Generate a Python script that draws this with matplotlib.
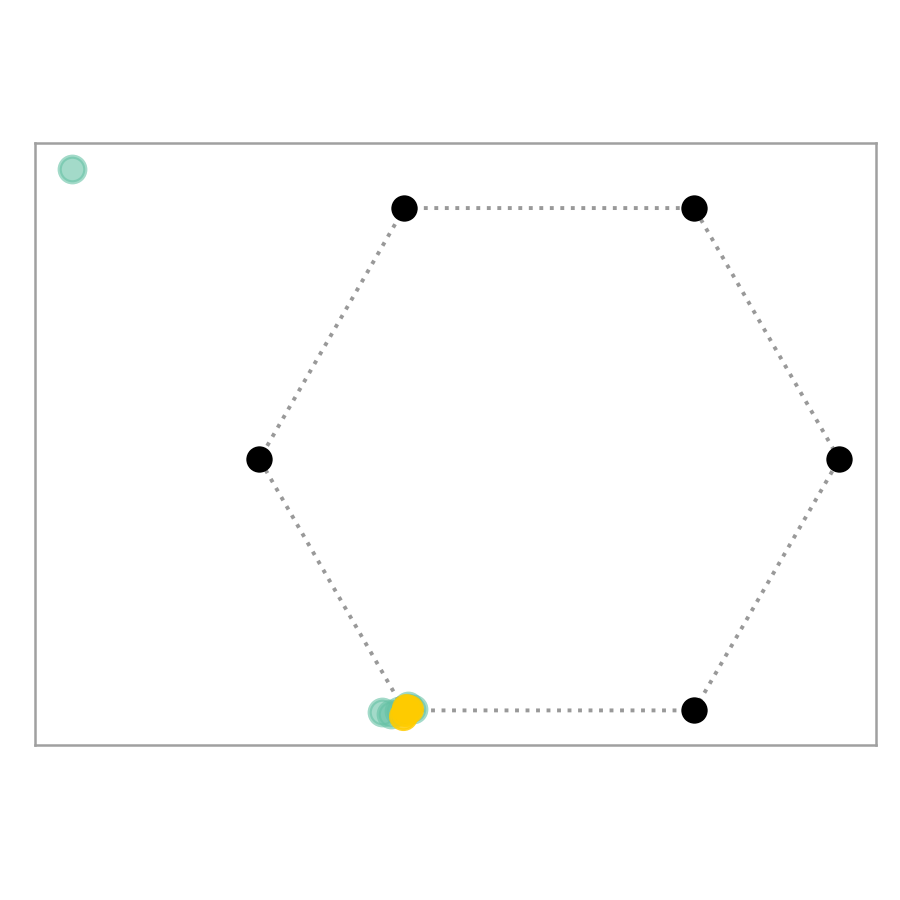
import matplotlib
matplotlib.use("Agg")
import matplotlib.pyplot as plt
import numpy as np

# Anchor angles (degrees) of the six radviz anchors
anchor_angles = [0, 60, 120, 180, 240, 300]

# Projected sample points
teal_x = [-1.647, -0.578, -0.545, -0.488, -0.520, -0.470]
teal_y = [1.000, -0.872, -0.880, -0.850, -0.868, -0.860]
yellow_x = [-0.498, -0.505, -0.485, -0.495]
yellow_y = [-0.872, -0.885, -0.862, -0.858]

teal = "#66c2a5"
yellow = "#ffcc00"

fig = plt.figure(figsize=(9, 9), dpi=100)
ax = fig.add_axes([0.039, 0.172, 0.934, 0.669])

ang = np.deg2rad(anchor_angles)
ax_x = np.cos(ang)
ax_y = np.sin(ang)
# dotted outline
ax.plot(np.append(ax_x, ax_x[0]), np.append(ax_y, ax_y[0]),
        linestyle=(0, (1, 1.7)), color="#999999", linewidth=2.8, zorder=1)
ax.scatter(ax_x, ax_y, s=360, color="black", zorder=2, linewidths=0)

ax.scatter(teal_x, teal_y, s=340, color=teal, alpha=0.6,
           edgecolors=teal, linewidths=3, zorder=3)
ax.scatter(yellow_x, yellow_y, s=360, color=yellow, alpha=0.85,
           edgecolors=yellow, linewidths=2, zorder=3)

ax.set_xlim(-1.774, 1.126)
ax.set_ylim(-0.986, 1.09)
ax.set_xticks([])
ax.set_yticks([])
for sp in ax.spines.values():
    sp.set_color("#a0a0a0")
    sp.set_linewidth(1.8)

fig.savefig("out.png", dpi=100)
